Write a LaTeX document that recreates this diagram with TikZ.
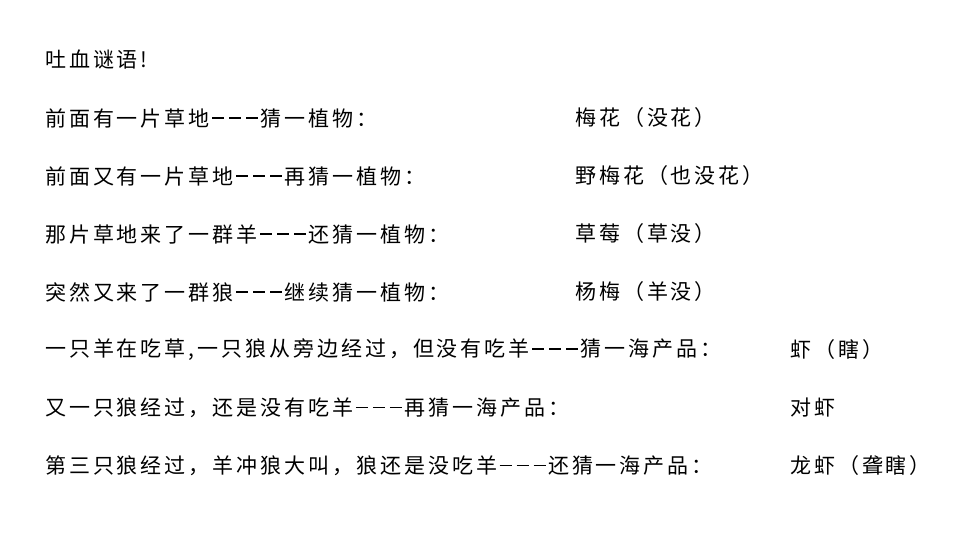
\documentclass[tikz,border=0pt]{standalone}
\usepackage{fontspec}
\setmainfont{Noto Sans CJK SC}[LetterSpace=14]
\newcommand{\dsh}{\makebox[17pt]{\rule[0.35em]{12pt}{1.3pt}}\makebox[17pt]{\rule[0.35em]{12pt}{1.3pt}}\makebox[17pt]{\rule[0.35em]{12pt}{1.3pt}}}
\begin{document}
\begin{tikzpicture}[x=1pt,y=-1pt,t/.style={anchor=west,inner sep=0pt,font=\fontsize{21}{23}\selectfont}]
\useasboundingbox[fill=white] (0,0) rectangle (955,553);
\node[t] (l0) at (45,60) {吐血谜语!};
\node[t] (l1) at (45,118) {前面有一片草地\dsh 猜一植物：};
\node[t] (a1) at (575,118) {梅花（没花）};
\node[t] (l2) at (45,176) {前面又有一片草地\dsh 再猜一植物：};
\node[t] (a2) at (575,176) {野梅花（也没花）};
\node[t] (l3) at (45,234) {那片草地来了一群羊\dsh 还猜一植物：};
\node[t] (a3) at (575,234) {草莓（草没）};
\node[t] (l4) at (45,292) {突然又来了一群狼\dsh 继续猜一植物：};
\node[t] (a4) at (575,292) {杨梅（羊没）};
\node[t] (l5) at (45,350) {一只羊在吃草,一只狼从旁边经过，但没有吃羊\dsh 猜一海产品：};
\node[t] (a5) at (790,350) {虾（瞎）};
\node[t] (l6) at (45,408) {又一只狼经过，还是没有吃羊\dsh 再猜一海产品：};
\node[t] (a6) at (790,408) {对虾};
\node[t] (l7) at (45,466) {第三只狼经过，羊冲狼大叫，狼还是没吃羊\dsh 还猜一海产品：};
\node[t] (a7) at (790,466) {龙虾（聋瞎）};
\end{tikzpicture}
\end{document}
